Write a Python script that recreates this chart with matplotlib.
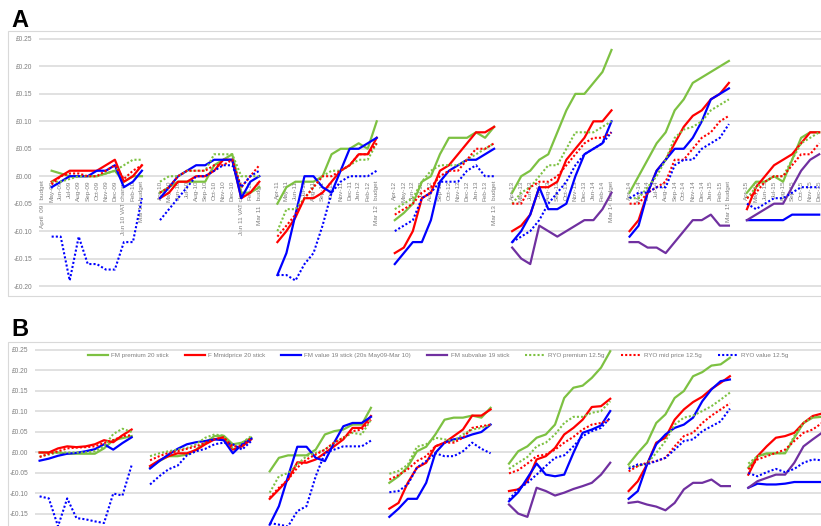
import numpy as np
import matplotlib.pyplot as plt
from matplotlib.patches import Rectangle
from matplotlib.ticker import FuncFormatter

plt.rcParams['font.family'] = ['Liberation Sans', 'DejaVu Sans']

nan = np.nan
E = [nan] * 12  # series not yet on sale

# ---- x tick labels: one segment per budget year, a blank slot between ----
seg_labels = [
    ['April  09   budget', 'May-09', 'Jun-09', 'Jul-09', 'Aug-09', 'Sep-09', 'Oct-09', 'Nov-09', 'Dec-09',
     'Jan 10 VAT change', 'Feb-10', 'Mar 10 budget'],
    ['Apr-10', 'May-10', 'Jun-10', 'Jul-10', 'Aug-10', 'Sep-10', 'Oct-10', 'Nov-10', 'Dec-10',
     'Jan 11 VAT change', 'Feb-11', 'Mar 11   budget'],
    ['Apr-11', 'May-11', 'Jun-11', 'Jul-11', 'Aug-11', 'Sep-11', 'Oct-11', 'Nov-11', 'Dec-11',
     'Jan-12', 'Feb-12', 'Mar 12   budget'],
    ['Apr-12', 'May-12', 'Jun-12', 'Jul-12', 'Aug-12', 'Sep-12', 'Oct-12', 'Nov-12', 'Dec-12',
     'Jan-13', 'Feb-13', 'Mar 13   budget'],
    ['Apr-13', 'May-13', 'Jun-13', 'Jul-13', 'Aug-13', 'Sep-13', 'Oct-13', 'Nov-13', 'Dec-13',
     'Jan-14', 'Feb-14', 'Mar 14 budget'],
    ['Apr-14', 'May-14', 'Jun-14', 'Jul-14', 'Aug-14', 'Sep-14', 'Oct-14', 'Nov-14', 'Dec-14',
     'Jan-15', 'Feb-15', 'Mar 15 budget'],
    ['Apr-15', 'May-15', 'Jun-15', 'Jul-15', 'Aug-15', 'Sep-15', 'Oct-15', 'Nov-15', 'Dec-15'],
]

series_names = ['FM premium 20 stick', 'F Mmidprice 20 stick', 'FM value 19 stick (20s May09-Mar 10)',
                'FM subvalue 19 stick', 'RYO premium 12.5g', 'RYO mid price 12.5g', 'RYO value 12.5g']

# ---- panel A values (GBP) ----
a_fm_premium = [
    [nan, 0.01, 0.005, 0.0, 0.0, 0.0, 0.0, 0.005, 0.01, -0.01, 0.0, 0.0],
    [-0.03, -0.02, -0.01, -0.01, -0.01, -0.01, 0.02, 0.03, 0.04, -0.03, -0.03, -0.02],
    [-0.05, -0.02, -0.01, -0.01, -0.01, 0.0, 0.04, 0.05, 0.05, 0.06, 0.05, 0.10],
    [-0.08, -0.067, -0.05, -0.01, 0.0, 0.04, 0.07, 0.07, 0.07, 0.08, 0.07, 0.09],
    [-0.03, 0.0, 0.01, 0.03, 0.04, 0.08, 0.12, 0.15, 0.15, 0.17, 0.19, 0.23],
    [-0.03, 0.0, 0.03, 0.06, 0.08, 0.12, 0.14, 0.17, 0.18, 0.19, 0.20, 0.21],
    [-0.03, -0.01, -0.01, 0.0, -0.01, 0.03, 0.07, 0.08, 0.08],
]
a_fm_mid = [
    [nan, -0.01, 0.0, 0.01, 0.01, 0.01, 0.01, 0.02, 0.03, -0.01, 0.0, 0.02],
    [-0.04, -0.03, -0.01, -0.01, 0.0, 0.0, 0.01, 0.03, 0.03, -0.04, -0.03, -0.01],
    [-0.12, -0.10, -0.075, -0.04, -0.04, -0.03, -0.01, 0.01, 0.02, 0.04, 0.04, 0.07],
    [-0.14, -0.13, -0.10, -0.04, -0.03, 0.01, 0.02, 0.04, 0.06, 0.08, 0.08, 0.09],
    [-0.10, -0.09, -0.07, -0.02, -0.02, -0.01, 0.03, 0.05, 0.07, 0.10, 0.10, 0.12],
    [-0.10, -0.08, -0.03, 0.01, 0.03, 0.06, 0.09, 0.11, 0.12, 0.14, 0.15, 0.17],
    [-0.06, -0.02, 0.0, 0.02, 0.03, 0.04, 0.06, 0.08, 0.08],
]
a_fm_value = [
    [nan, -0.02, -0.01, 0.0, 0.0, 0.0, 0.01, 0.01, 0.02, -0.02, -0.01, 0.01],
    [-0.04, -0.02, 0.0, 0.01, 0.02, 0.02, 0.03, 0.03, 0.03, -0.04, -0.01, 0.0],
    [-0.18, -0.14, -0.07, 0.0, 0.0, -0.02, -0.03, 0.01, 0.05, 0.05, 0.06, 0.07],
    [-0.16, -0.14, -0.12, -0.12, -0.08, -0.01, 0.01, 0.02, 0.03, 0.03, 0.04, 0.05],
    [-0.12, -0.10, -0.07, -0.02, -0.06, -0.06, -0.05, 0.0, 0.04, 0.05, 0.06, 0.10],
    [-0.11, -0.09, -0.03, 0.01, 0.03, 0.05, 0.05, 0.07, 0.10, 0.14, 0.15, 0.16],
    [-0.08, -0.08, -0.08, -0.08, -0.08, -0.07, -0.07, -0.07, -0.07],
]
a_fm_subvalue = [
    E, E, E, E,
    [-0.13, -0.15, -0.16, -0.09, -0.10, -0.11, -0.10, -0.09, -0.08, -0.08, -0.06, -0.03],
    [-0.12, -0.12, -0.13, -0.13, -0.14, -0.12, -0.10, -0.08, -0.08, -0.07, -0.09, -0.09],
    [-0.08, -0.07, -0.06, -0.05, -0.05, -0.02, 0.01, 0.03, 0.04],
]
a_ryo_premium = [
    [nan, -0.01, -0.01, -0.005, 0.0, 0.0, 0.0, 0.005, 0.01, 0.02, 0.03, 0.03],
    [-0.01, 0.0, 0.0, 0.01, 0.01, 0.01, 0.04, 0.04, 0.04, 0.0, 0.0, 0.0],
    [-0.10, -0.06, -0.06, -0.04, -0.02, 0.0, 0.01, 0.01, 0.02, 0.03, 0.03, 0.06],
    [-0.06, -0.05, -0.04, -0.01, 0.01, 0.02, 0.02, 0.02, 0.03, 0.04, 0.05, 0.06],
    [-0.05, -0.03, -0.02, 0.0, 0.02, 0.02, 0.05, 0.08, 0.08, 0.08, 0.09, 0.10],
    [-0.04, -0.04, -0.02, 0.0, 0.03, 0.07, 0.085, 0.09, 0.10, 0.12, 0.13, 0.14],
    [-0.04, -0.02, -0.01, 0.0, 0.0, 0.03, 0.06, 0.07, 0.08],
]
a_ryo_mid = [
    [nan, -0.015, 0.0, 0.005, 0.005, 0.0, 0.0, 0.01, 0.02, -0.005, 0.01, 0.02],
    [-0.03, -0.02, 0.0, 0.01, 0.01, 0.01, 0.02, 0.02, 0.03, -0.02, 0.0, 0.02],
    [-0.11, -0.09, -0.07, -0.04, -0.02, 0.0, 0.0, 0.01, 0.02, 0.04, 0.04, 0.06],
    [-0.07, -0.06, -0.05, -0.03, -0.02, 0.0, 0.01, 0.01, 0.03, 0.05, 0.05, 0.06],
    [-0.05, -0.05, -0.02, -0.01, -0.01, 0.0, 0.02, 0.04, 0.06, 0.07, 0.07, 0.08],
    [-0.05, -0.05, -0.03, -0.02, -0.01, 0.03, 0.03, 0.05, 0.07, 0.08, 0.10, 0.11],
    [-0.04, -0.03, -0.01, 0.0, 0.0, 0.02, 0.04, 0.04, 0.06],
]
a_ryo_value = [
    [nan, -0.11, -0.11, -0.19, -0.11, -0.16, -0.16, -0.17, -0.17, -0.12, -0.12, -0.04],
    [-0.08, -0.06, -0.04, -0.02, 0.0, 0.0, 0.01, 0.02, 0.02, -0.02, 0.0, 0.01],
    [-0.18, -0.18, -0.19, -0.16, -0.14, -0.09, -0.03, -0.01, 0.0, 0.0, 0.0, 0.01],
    [-0.10, -0.09, -0.08, -0.04, -0.03, -0.01, -0.01, -0.01, 0.01, 0.02, 0.0, 0.0],
    [-0.12, -0.11, -0.10, -0.08, -0.05, -0.03, -0.01, 0.02, 0.04, 0.05, 0.06, 0.08],
    [-0.04, -0.03, -0.03, -0.02, -0.02, 0.02, 0.03, 0.03, 0.05, 0.06, 0.07, 0.095],
    [-0.05, -0.06, -0.05, -0.04, -0.04, -0.03, -0.02, -0.02, -0.02],
]

# ---- panel B values (GBP) ----
b_fm_premium = [
    [nan, 0.0, 0.0, 0.0, -0.003, -0.003, -0.003, -0.003, 0.01, 0.03, 0.035, 0.04],
    [-0.037, -0.021, -0.009, -0.009, -0.005, 0.007, 0.024, 0.04, 0.041, 0.02, 0.024, 0.036],
    [-0.046, -0.013, -0.007, -0.007, -0.007, 0.007, 0.044, 0.052, 0.056, 0.068, 0.068, 0.109],
    [-0.074, -0.058, -0.035, 0.003, 0.014, 0.044, 0.08, 0.085, 0.085, 0.09, 0.085, 0.109],
    [-0.027, 0.003, 0.015, 0.036, 0.044, 0.068, 0.133, 0.158, 0.163, 0.182, 0.207, 0.247],
    [-0.029, -0.001, 0.024, 0.072, 0.093, 0.133, 0.15, 0.186, 0.196, 0.212, 0.215, 0.231],
    [-0.037, -0.009, -0.002, -0.002, -0.002, 0.036, 0.072, 0.085, 0.087],
]
b_fm_mid = [
    [nan, 0.0, 0.0, 0.01, 0.015, 0.013, 0.015, 0.02, 0.03, 0.025, 0.042, 0.056],
    [-0.033, -0.019, -0.009, -0.002, -0.002, 0.006, 0.02, 0.032, 0.037, 0.007, 0.015, 0.032],
    [-0.113, -0.09, -0.066, -0.024, -0.025, -0.017, -0.001, 0.015, 0.032, 0.06, 0.06, 0.089],
    [-0.137, -0.123, -0.074, -0.037, -0.025, 0.015, 0.024, 0.04, 0.056, 0.09, 0.09, 0.105],
    [-0.094, -0.09, -0.07, -0.017, -0.009, 0.011, 0.044, 0.06, 0.08, 0.111, 0.113, 0.131],
    [-0.094, -0.07, -0.029, 0.024, 0.036, 0.08, 0.105, 0.123, 0.136, 0.155, 0.17, 0.186],
    [-0.054, -0.009, 0.015, 0.036, 0.04, 0.048, 0.072, 0.089, 0.095],
]
b_fm_value = [
    [nan, -0.02, -0.015, -0.008, -0.003, -0.001, 0.003, 0.008, 0.02, 0.007, 0.023, 0.037],
    [-0.039, -0.021, -0.005, 0.009, 0.02, 0.025, 0.028, 0.032, 0.03, -0.002, 0.02, 0.034],
    [-0.176, -0.131, -0.058, 0.014, 0.014, -0.013, -0.021, 0.024, 0.064, 0.072, 0.072, 0.087],
    [-0.157, -0.137, -0.113, -0.113, -0.074, -0.001, 0.024, 0.032, 0.036, 0.044, 0.05, 0.068],
    [-0.119, -0.097, -0.062, -0.027, -0.054, -0.058, -0.054, -0.001, 0.048, 0.056, 0.066, 0.101],
    [-0.113, -0.094, -0.029, 0.02, 0.044, 0.06, 0.068, 0.085, 0.125, 0.154, 0.174, 0.178],
    [-0.086, -0.076, -0.078, -0.078, -0.076, -0.072, -0.072, -0.072, -0.072],
]
b_fm_subvalue = [
    E, E, E, E,
    [-0.127, -0.149, -0.157, -0.086, -0.094, -0.105, -0.098, -0.089, -0.082, -0.074, -0.054, -0.025],
    [-0.123, -0.12, -0.127, -0.132, -0.141, -0.123, -0.09, -0.074, -0.074, -0.066, -0.082, -0.082],
    [-0.086, -0.07, -0.062, -0.054, -0.054, -0.025, 0.015, 0.032, 0.048],
]
b_ryo_premium = [
    [nan, -0.01, -0.005, 0.0, 0.0, 0.0, 0.0, 0.003, 0.015, 0.045, 0.058, 0.05],
    [-0.009, -0.002, 0.003, 0.007, 0.011, 0.02, 0.036, 0.044, 0.041, 0.011, 0.024, 0.04],
    [-0.098, -0.058, -0.05, -0.029, -0.009, -0.001, 0.007, 0.024, 0.036, 0.048, 0.044, 0.08],
    [-0.052, -0.045, -0.03, 0.014, 0.02, 0.036, 0.032, 0.028, 0.044, 0.056, 0.06, 0.068],
    [-0.04, -0.025, -0.011, 0.015, 0.024, 0.044, 0.072, 0.087, 0.087, 0.097, 0.101, 0.125],
    [-0.035, -0.033, -0.027, -0.001, 0.028, 0.068, 0.085, 0.09, 0.101, 0.113, 0.129, 0.146],
    [-0.027, -0.009, -0.005, -0.002, -0.001, 0.04, 0.072, 0.087, 0.087],
]
b_ryo_mid = [
    [nan, -0.011, -0.003, 0.003, 0.01, 0.012, 0.013, 0.015, 0.023, 0.03, 0.04, 0.042],
    [-0.019, -0.009, -0.001, 0.003, 0.009, 0.015, 0.024, 0.032, 0.037, 0.015, 0.015, 0.036],
    [-0.11, -0.086, -0.066, -0.037, -0.017, -0.005, 0.007, 0.024, 0.036, 0.052, 0.056, 0.08],
    [-0.066, -0.055, -0.041, -0.021, -0.009, 0.015, 0.024, 0.024, 0.036, 0.06, 0.064, 0.068],
    [-0.051, -0.043, -0.027, -0.009, -0.005, 0.007, 0.024, 0.038, 0.056, 0.068, 0.072, 0.08],
    [-0.046, -0.033, -0.025, -0.021, -0.013, 0.015, 0.04, 0.048, 0.072, 0.09, 0.105, 0.12],
    [-0.041, -0.017, -0.009, -0.001, 0.007, 0.028, 0.048, 0.056, 0.072],
]
b_ryo_value = [
    [nan, -0.107, -0.112, -0.18, -0.112, -0.16, -0.163, -0.168, -0.172, -0.10, -0.105, -0.031],
    [-0.078, -0.058, -0.041, -0.032, -0.007, 0.003, 0.009, 0.02, 0.024, 0.02, 0.007, 0.028],
    [-0.172, -0.176, -0.18, -0.143, -0.131, -0.058, -0.001, 0.007, 0.015, 0.015, 0.015, 0.029],
    [-0.097, -0.094, -0.078, -0.037, -0.021, -0.002, -0.009, -0.009, 0.003, 0.024, 0.009, -0.002],
    [-0.115, -0.09, -0.074, -0.054, -0.033, -0.013, -0.007, 0.015, 0.04, 0.052, 0.06, 0.085],
    [-0.04, -0.029, -0.029, -0.021, -0.013, 0.007, 0.028, 0.032, 0.052, 0.064, 0.076, 0.107],
    [-0.05, -0.058, -0.048, -0.04, -0.048, -0.04, -0.025, -0.017, -0.019],
]

GREEN, RED, BLUE, PURPLE = '#7dc142', '#ff0000', '#0000ff', '#7030a0'
DOT = (0, (1, 1))
styles = [(GREEN, '-'), (RED, '-'), (BLUE, '-'), (PURPLE, '-'),
          (GREEN, DOT), (RED, DOT), (BLUE, DOT)]


def flat(segs):
    """join the yearly segments with a blank slot (NaN) between them"""
    out = []
    for s in segs:
        out += list(s) + [nan]
    return np.array(out[:-1], dtype=float)


labels = []
for s in seg_labels:
    labels += s + ['']
labels = labels[:-1]
x = np.arange(len(labels))


def money(v, pos):
    return f'-£{abs(v):.2f}' if v < -1e-9 else f'£{abs(v):.2f}'


def style_axis(ax, ylim, xlim, yticks):
    ax.set_ylim(*ylim)
    ax.set_xlim(*xlim)
    ax.set_yticks(yticks)
    ax.yaxis.set_major_formatter(FuncFormatter(money))
    ax.grid(axis='y', color='#d9d9d9', lw=1.1)
    ax.set_axisbelow(True)
    for sp in ax.spines.values():
        sp.set_visible(False)
    ax.tick_params(axis='y', length=0, labelsize=4.8, labelcolor='#7f7f7f', pad=5)
    ax.patch.set_alpha(0)


def draw(ax, data, names=None):
    for i, (segs, (c, ls)) in enumerate(zip(data, styles)):
        dotted = ls == DOT
        ax.plot(x, flat(segs), color=c, ls=ls, lw=1.5 if dotted else 1.6,
                label=names[i] if names else None)


fig = plt.figure(figsize=(8.21, 5.26), dpi=100)
W, H = 821, 526

# panel frames
fig.patches.append(Rectangle((8 / W, 1 - 296 / H), 1.0, 265 / H, transform=fig.transFigure,
                             fill=False, ec='#d9d9d9', lw=0.8))
fig.patches.append(Rectangle((8 / W, -0.02), 1.0, 1 - 342 / H + 0.02, transform=fig.transFigure,
                             fill=False, ec='#d9d9d9', lw=0.8))
fig.text(11 / W, 1 - 27 / H, 'A', fontsize=17, fontweight='bold', ha='left', va='baseline')
fig.text(11 / W, 1 - 336 / H, 'B', fontsize=17, fontweight='bold', ha='left', va='baseline')

# panel A
axA = fig.add_axes([39 / W, 1 - 291.5 / H, (W - 39) / W, 258 / H])
style_axis(axA, (-0.21, 0.26), (-0.4, 86.2), np.arange(-0.20, 0.251, 0.05))
draw(axA, [a_fm_premium, a_fm_mid, a_fm_value, a_fm_subvalue, a_ryo_premium, a_ryo_mid, a_ryo_value])
axA.spines['bottom'].set_position(('data', 0))
axA.set_xticks(x)
axA.set_xticklabels(labels, rotation=90, fontsize=4.6, color='#7f7f7f')
axA.tick_params(axis='x', length=0, pad=3)

# panel B (bottom of the chart is cut off by the page edge)
axB = fig.add_axes([35 / W, 0, (W - 35) / W, (H - 345.9) / H])
style_axis(axB, (-0.1793, 0.26), (0.5, 85.9), np.arange(-0.15, 0.251, 0.05))
draw(axB, [b_fm_premium, b_fm_mid, b_fm_value, b_fm_subvalue, b_ryo_premium, b_ryo_mid, b_ryo_value],
     series_names)
axB.set_xticks([])
leg = axB.legend(loc='center', bbox_to_anchor=(0.513, 0.949), ncol=7, frameon=False,
                 fontsize=4.5, handlelength=3.2, handletextpad=0.5, columnspacing=2.6)
for t in leg.get_texts():
    t.set_color('#7f7f7f')

fig.savefig('out.png', dpi=100)
